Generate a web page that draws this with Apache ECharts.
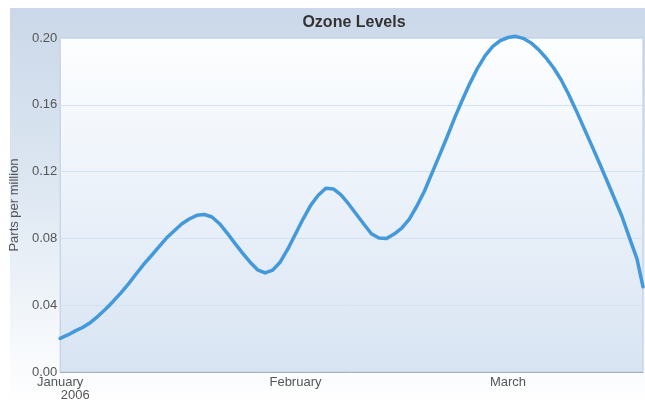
<!DOCTYPE html>
<html>
<head>
<meta charset="utf-8">
<script src="https://cdn.jsdelivr.net/npm/echarts@6/dist/echarts.min.js"></script>
<style>
  html, body { margin: 0; padding: 0; background: #ffffff; }
  #chart { width: 645px; height: 404px; }
</style>
</head>
<body>
<div id="chart"></div>
<script>
// Daily ozone readings, early 2006 (parts per million)
const sampleDates = [
  '2006-01-01', '2006-01-02', '2006-01-03', '2006-01-04', '2006-01-05', '2006-01-06',
  '2006-01-07', '2006-01-08', '2006-01-09', '2006-01-10', '2006-01-11', '2006-01-12',
  '2006-01-13', '2006-01-14', '2006-01-15', '2006-01-16', '2006-01-17', '2006-01-18',
  '2006-01-19', '2006-01-20', '2006-01-21', '2006-01-22', '2006-01-23', '2006-01-24',
  '2006-01-25', '2006-01-26', '2006-01-27', '2006-01-28', '2006-01-29', '2006-01-30',
  '2006-01-31', '2006-02-01', '2006-02-02', '2006-02-03', '2006-02-04', '2006-02-05',
  '2006-02-06', '2006-02-07', '2006-02-08', '2006-02-09', '2006-02-10', '2006-02-11',
  '2006-02-12', '2006-02-13', '2006-02-14', '2006-02-15', '2006-02-16', '2006-02-17',
  '2006-02-18', '2006-02-19', '2006-02-20', '2006-02-21', '2006-02-22', '2006-02-23',
  '2006-02-24', '2006-02-25', '2006-02-26', '2006-02-27', '2006-02-28', '2006-03-01',
  '2006-03-02', '2006-03-03', '2006-03-04', '2006-03-05', '2006-03-06', '2006-03-07',
  '2006-03-08', '2006-03-09', '2006-03-10', '2006-03-11', '2006-03-12', '2006-03-13',
  '2006-03-14', '2006-03-15', '2006-03-16', '2006-03-17', '2006-03-18', '2006-03-18T19:00'
];
const ozonePpm = [
  0.0201, 0.0222, 0.0246, 0.0268, 0.0297, 0.0335,
  0.0377, 0.0424, 0.0474, 0.0528, 0.0587, 0.0644,
  0.0696, 0.0749, 0.0802, 0.0844, 0.0886, 0.0916,
  0.0938, 0.0943, 0.0928, 0.0888, 0.0832, 0.0772,
  0.0713, 0.0659, 0.0612, 0.0593, 0.0610, 0.0659,
  0.0737, 0.0826, 0.0916, 0.0998, 0.1058, 0.1100,
  0.1096, 0.1060, 0.1006, 0.0946, 0.0886, 0.0828,
  0.0802, 0.0799, 0.0826, 0.0862, 0.0916, 0.0994,
  0.1084, 0.1192, 0.1300, 0.1410, 0.1525, 0.1630,
  0.1730, 0.1820, 0.1895, 0.1950, 0.1985, 0.2003,
  0.2010, 0.1998, 0.1972, 0.1932, 0.1882, 0.1822,
  0.1750, 0.1662, 0.1565, 0.1462, 0.1360, 0.1256,
  0.1150, 0.1042, 0.0934, 0.0805, 0.0677, 0.0510
];
const monthLabels = ['January', 'February', 'March'];
const monthStarts = ['2006-01-01', '2006-02-01', '2006-03-01'];
const yTicks = [0, 0.04, 0.08, 0.12, 0.16, 0.20];

// convert a date string to days elapsed since the first reading
function toUtc(s) {
  return Date.parse(s.length === 10 ? s + 'T00:00:00Z' : s + ':00Z');
}
const origin = toUtc(sampleDates[0]);
const dayOf = s => (toUtc(s) - origin) / 86400000;

const seriesData = sampleDates.map((d, i) => [dayOf(d), ozonePpm[i]]);
const monthDays = monthStarts.map(dayOf);
const lastDay = dayOf(sampleDates[sampleDates.length - 1]);

const chart = echarts.init(document.getElementById('chart'), null, { renderer: 'canvas' });

chart.setOption({
  animation: false,
  backgroundColor: '#ffffff',
  graphic: [{
    type: 'rect',
    z: -10,
    silent: true,
    shape: { x: 10, y: 8, width: 635, height: 396 },
    style: {
      fill: new echarts.graphic.LinearGradient(0, 0, 0, 1, [
        { offset: 0, color: '#cbd8e9' },
        { offset: 0.45, color: '#dde7f2' },
        { offset: 0.85, color: '#f6f9fc' },
        { offset: 1, color: '#ffffff' }
      ])
    }
  }],
  title: {
    text: 'Ozone Levels',
    left: 349,
    textAlign: 'center',
    top: 10,
    textStyle: {
      fontFamily: 'Liberation Sans, Arial, sans-serif',
      fontSize: 16,
      fontWeight: 'bold',
      color: '#333333'
    }
  },
  grid: {
    left: 56,
    right: 2,
    top: 38,
    bottom: 32,
    show: true,
    borderColor: '#bccbdd',
    borderWidth: 1,
    backgroundColor: new echarts.graphic.LinearGradient(0, 0, 0, 1, [
      { offset: 0, color: '#fdfeff' },
      { offset: 1, color: '#d8e4f3' }
    ])
  },
  xAxis: {
    type: 'value',
    min: 0,
    max: lastDay,
    axisLine: { show: true, lineStyle: { color: '#a9b3bf', width: 1 } },
    axisTick: { show: false },
    splitLine: { show: false },
    axisLabel: {
      customValues: monthDays,
      margin: 4,
      fontFamily: 'Liberation Sans, Arial, sans-serif',
      fontSize: 13,
      color: '#555555',
      lineHeight: 13,
      formatter: function (v) {
        const i = monthDays.indexOf(v);
        if (i === 0) return '{m|' + monthLabels[0] + '}\n{y|2006}';
        return i > 0 ? monthLabels[i] : '';
      },
      rich: {
        m: { fontSize: 13, color: '#555555', lineHeight: 13 },
        y: { fontSize: 13, color: '#555555', lineHeight: 13, padding: [0, 0, 0, 30] }
      }
    }
  },
  yAxis: {
    type: 'value',
    min: yTicks[0],
    max: yTicks[yTicks.length - 1],
    interval: 0.04,
    name: 'Parts per million',
    nameLocation: 'middle',
    nameGap: 29,
    nameTextStyle: {
      fontFamily: 'Liberation Sans, Arial, sans-serif',
      fontSize: 13,
      color: '#555555'
    },
    axisLine: { show: false },
    axisTick: { show: false },
    axisLabel: {
      margin: 3,
      fontFamily: 'Liberation Sans, Arial, sans-serif',
      fontSize: 13,
      color: '#555555',
      formatter: v => v.toFixed(2)
    },
    splitLine: { show: true, lineStyle: { color: '#d3e1f0', width: 1 } }
  },
  series: [{
    type: 'line',
    data: seriesData,
    smooth: false,
    showSymbol: false,
    clip: false,
    lineStyle: { color: '#4499da', width: 3.5, join: 'round', cap: 'round' }
  }]
});
</script>
</body>
</html>
